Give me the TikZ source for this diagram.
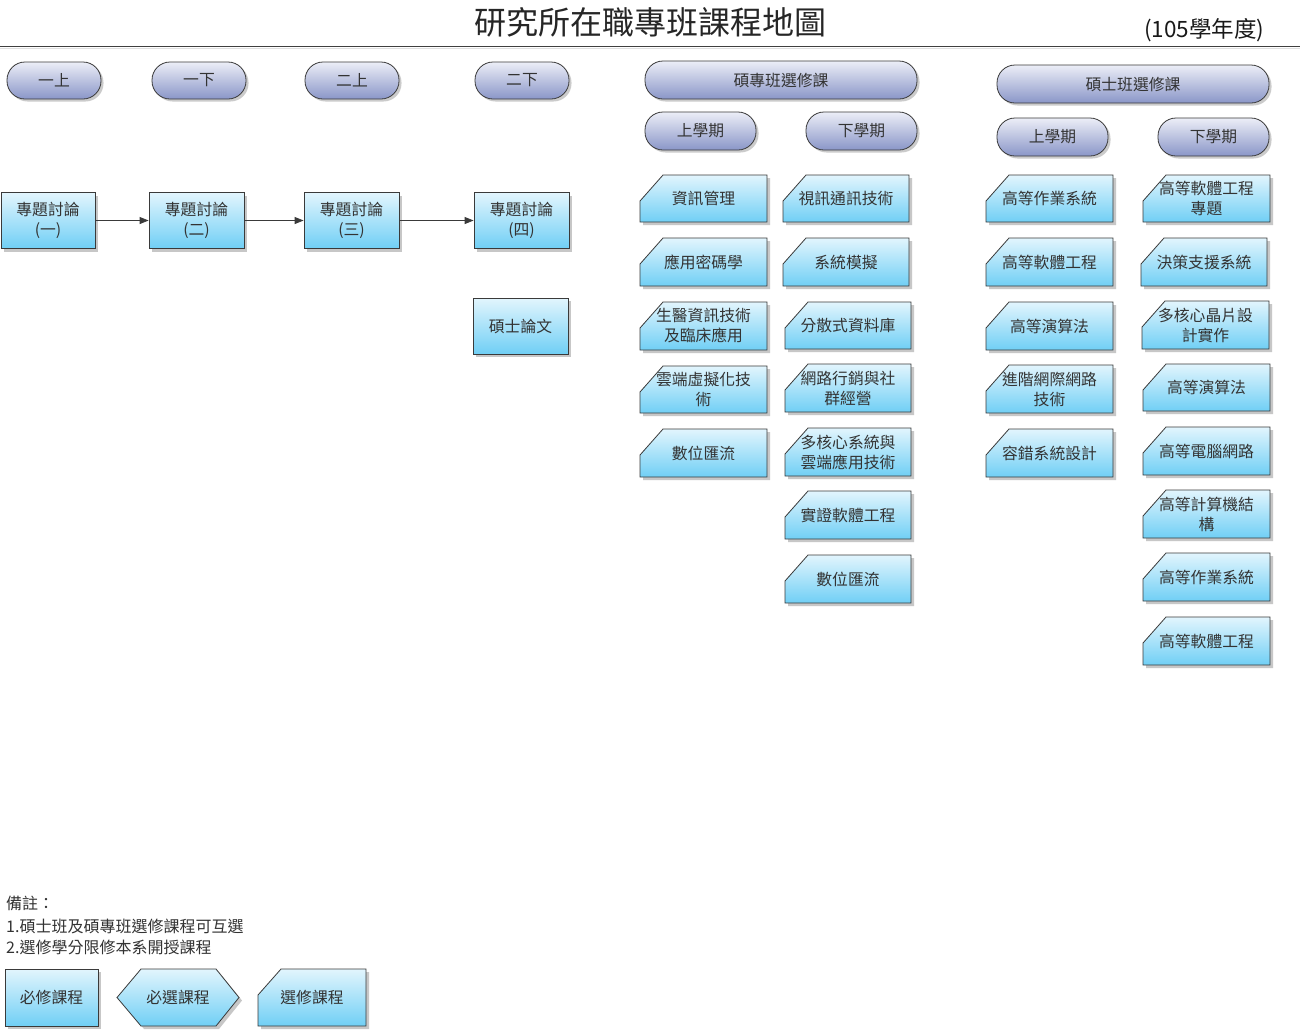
\documentclass[tikz,border=0pt]{standalone}
\usepackage{fontspec}
\setmainfont{Noto Sans CJK TC}
\usetikzlibrary{arrows.meta,shadows}
\definecolor{pilltop}{HTML}{ECEEF7}
\definecolor{pillbot}{HTML}{8A96C8}
\definecolor{boxtop}{HTML}{E2F5FD}
\definecolor{boxbot}{HTML}{70CFF5}
\definecolor{edgec}{HTML}{3A3A3A}
\definecolor{txtc}{HTML}{333333}
\newcommand\fsa{\fontsize{15.8}{20}\selectfont}
\newcommand\elecbox[6]{%
  \fill[black!22] ({#2+3},{#3+29}) -- ({#2+26},{#3+3}) -- ({#4+3},{#3+3}) -- ({#4+3},{#5+3}) -- ({#2+3},{#5+3}) -- cycle;
  \shade[boxshade] (#2,{#3+26}) -- ({#2+23},#3) -- (#4,#3) -- (#4,#5) -- (#2,#5) -- cycle;
  \node[etext] (#1) at ({(#2+#4)/2},{(#3+#5)/2}) {#6};}
\begin{document}
\begin{tikzpicture}[x=1pt,y=-1pt,
  pill/.style={draw=edgec, line width=0.8pt, rounded corners=18pt, top color=pilltop, bottom color=pillbot,
    minimum height=37pt, inner sep=0pt, font=\fsa, text=txtc,
    drop shadow={shadow xshift=2.5pt, shadow yshift=-2.5pt, fill=black!40, opacity=0.5}},
  reqbox/.style={draw=edgec, line width=0.8pt, top color=boxtop, bottom color=boxbot,
    minimum height=56pt, inner sep=0pt, align=center, font=\fsa, text=txtc,
    drop shadow={shadow xshift=3pt, shadow yshift=-3pt, fill=black!22, opacity=1}},
  boxshade/.style={draw=edgec, line width=0.8pt, top color=boxtop, bottom color=boxbot},
  etext/.style={inner sep=0pt, align=center, font=\fsa, text=txtc},
  arr/.style={draw=edgec, line width=0.8pt, -{Triangle[length=9pt,width=7pt]}},
  note/.style={anchor=west, inner sep=0pt, font=\fontsize{16}{20}\selectfont, text=txtc}]
\useasboundingbox (0,0) rectangle (1303,1029);
\fill[white] (0,0) rectangle (1303,1029);
% title
\node[text=black!85] (title) at (650,22) {\fontsize{32}{32}\selectfont 研究所在職專班課程地圖};
\node[anchor=east, text=black!90] (year) at (1268,30) {\fontsize{22.5}{22.5}\selectfont (105學年度)};
\coordinate (l1) at (0,46);
\coordinate (l2) at (1300,46);
\draw[line width=1pt, black!75] (l1) -- (l2);
\draw[line width=0.8pt, black!12] ([yshift=-2pt]l1) -- ([yshift=-2pt]l2);
% pills
\node[pill, minimum width=94pt] (p1) at (54,80.5) {一上};
\node[pill, minimum width=94pt] (p2) at (199,80.5) {一下};
\node[pill, minimum width=94pt] (p3) at (352,80.5) {二上};
\node[pill, minimum width=94pt] (p4) at (522,80.5) {二下};
\node[pill, minimum width=272pt, minimum height=38pt] (pz) at (781,80) {碩專班選修課};
\node[pill, minimum width=111pt, minimum height=38pt] (pz1) at (700.5,131) {上學期};
\node[pill, minimum width=111pt, minimum height=38pt] (pz2) at (861.5,131) {下學期};
\node[pill, minimum width=272pt, minimum height=38pt] (ps) at (1133,84) {碩士班選修課};
\node[pill, minimum width=111pt, minimum height=38pt] (ps1) at (1052.5,137) {上學期};
\node[pill, minimum width=111pt, minimum height=38pt] (ps2) at (1213.5,137) {下學期};
% required
\node[reqbox, minimum width=94pt] (r1) at (48,220.5) {專題討論\\(一)};
\node[reqbox, minimum width=95pt] (r2) at (196.5,220.5) {專題討論\\(二)};
\node[reqbox, minimum width=95pt] (r3) at (351.5,220.5) {專題討論\\(三)};
\node[reqbox, minimum width=95pt] (r4) at (521.5,220.5) {專題討論\\(四)};
\node[reqbox, minimum width=95pt] (r5) at (520.5,326) {碩士論文};
\draw[arr] (r1) -- (r2);
\draw[arr] (r2) -- (r3);
\draw[arr] (r3) -- (r4);
% electives col 1
\elecbox{e11}{640}{175}{767}{222}{資訊管理}
\elecbox{e12}{640}{238}{767}{286}{應用密碼學}
\elecbox{e13}{640}{302}{767}{350}{生醫資訊技術\\及臨床應用}
\elecbox{e14}{640}{366}{767}{413}{雲端虛擬化技\\術}
\elecbox{e15}{640}{429}{767}{477}{數位匯流}
% col 2
\elecbox{e21}{783}{175}{909}{222}{視訊通訊技術}
\elecbox{e22}{783}{238}{909}{286}{系統模擬}
\elecbox{e23}{785}{302}{911}{349}{分散式資料庫}
\elecbox{e24}{785}{364}{911}{412}{網路行銷與社\\群經營}
\elecbox{e25}{785}{428}{911}{476}{多核心系統與\\雲端應用技術}
\elecbox{e26}{785}{491}{911}{539}{實證軟體工程}
\elecbox{e27}{785}{555}{911}{603}{數位匯流}
% col 3
\elecbox{e31}{986}{175}{1113}{222}{高等作業系統}
\elecbox{e32}{986}{238}{1113}{286}{高等軟體工程}
\elecbox{e33}{986}{302}{1113}{350}{高等演算法}
\elecbox{e34}{986}{365}{1113}{413}{進階網際網路\\技術}
\elecbox{e35}{986}{429}{1113}{477}{容錯系統設計}
% col 4
\elecbox{e41}{1143}{175}{1270}{222}{高等軟體工程\\專題}
\elecbox{e42}{1141}{238}{1267}{286}{決策支援系統}
\elecbox{e43}{1142}{301}{1269}{349}{多核心晶片設\\計實作}
\elecbox{e44}{1143}{364}{1270}{411}{高等演算法}
\elecbox{e45}{1143}{427}{1270}{475}{高等電腦網路}
\elecbox{e46}{1143}{490}{1270}{538}{高等計算機結\\構}
\elecbox{e47}{1143}{553}{1270}{601}{高等作業系統}
\elecbox{e48}{1143}{617}{1270}{665}{高等軟體工程}
% notes
\node[note] (n0) at (6,903) {備註：};
\node[note] (n1) at (6,926) {1.碩士班及碩專班選修課程可互選};
\node[note] (n2) at (6,947) {2.選修學分限修本系開授課程};
% legend
\node[reqbox, minimum width=93pt, minimum height=57pt] (lg1) at (51.5,997.5) {必修課程};
\fill[black!22] (120,1000.5) -- (144,972) -- (219,972) -- (242,1000.5) -- (219,1029) -- (144,1029) -- cycle;
\shade[boxshade] (117,997.5) -- (141,969) -- (216,969) -- (239,997.5) -- (216,1026) -- (141,1026) -- cycle;
\node[etext] (lg2) at (178,997.5) {必選課程};
\elecbox{lg3}{258}{969}{366}{1026}{選修課程}
\end{tikzpicture}
\end{document}
